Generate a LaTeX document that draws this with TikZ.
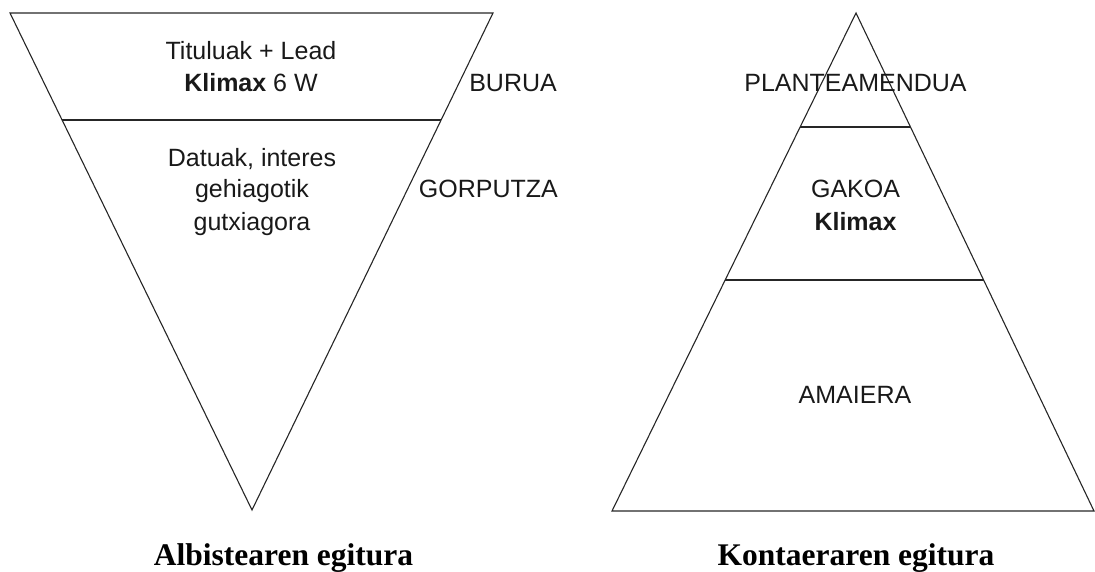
\documentclass[tikz,border=0pt]{standalone}
\usepackage{fontspec}
\setmainfont{Liberation Sans}
\newfontfamily\titlefont{Liberation Serif}
\usetikzlibrary{calc}
\begin{document}
\begin{tikzpicture}[x=1pt,y=-1pt,
  edge/.style={draw=black!85, line width=1.1pt, line join=miter},
  lbl/.style={inner sep=0pt, font=\fontsize{25}{32}\selectfont, text=black!90},
  ttl/.style={inner sep=0pt, font=\titlefont\bfseries\fontsize{31.5}{36}\selectfont}]
\useasboundingbox (0,0) rectangle (1095,572);
% left inverted triangle
\coordinate (LA) at (10,13);
\coordinate (LB) at (493,13);
\coordinate (LV) at (252,510);
\draw[edge] (LA) -- (LB) -- (LV) -- cycle;
\coordinate (L1a) at ($(LA)!0.2153!(LV)$);
\coordinate (L1b) at ($(LB)!0.2153!(LV)$);
\draw[edge] (L1a) -- (L1b);
% right triangle
\coordinate (RA) at (856,13);
\coordinate (RB) at (612,511);
\coordinate (RC) at (1094,511);
\draw[edge] (RA) -- (RB) -- (RC) -- cycle;
\coordinate (R1a) at ($(RA)!0.2289!(RB)$);
\coordinate (R1b) at ($(RA)!0.2289!(RC)$);
\coordinate (R2a) at ($(RA)!0.5361!(RB)$);
\coordinate (R2b) at ($(RA)!0.5361!(RC)$);
\draw[edge] (R1a) -- (R1b);
\draw[edge] (R2a) -- (R2b);
% left labels
\node[lbl, anchor=base] (t1) at (251,60) {Tituluak + Lead};
\node[lbl, anchor=base] (t2) at (251,92) {\textbf{Klimax} 6 W};
\node[lbl, anchor=base] (d1) at (252,167) {Datuak, interes};
\node[lbl, anchor=base] (d2) at (252,198) {gehiagotik};
\node[lbl, anchor=base] (d3) at (252,230) {gutxiagora};
\node[lbl, anchor=base east] (burua) at (557,92) {BURUA};
\node[lbl, anchor=base east] (gorp) at (558,198) {GORPUTZA};
% right labels
\node[lbl, anchor=base] (plan) at (855.5,92) {PLANTEAMENDUA};
\node[lbl, anchor=base] (gak) at (855.5,198) {GAKOA};
\node[lbl, anchor=base] (kli) at (855.5,230) {\textbf{Klimax}};
\node[lbl, anchor=base] (ama) at (855,403) {AMAIERA};
% titles
\node[ttl, anchor=base] (tl) at (283.5,565) {Albistearen egitura};
\node[ttl, anchor=base] (tr) at (856,565) {Kontaeraren egitura};
\end{tikzpicture}
\end{document}
